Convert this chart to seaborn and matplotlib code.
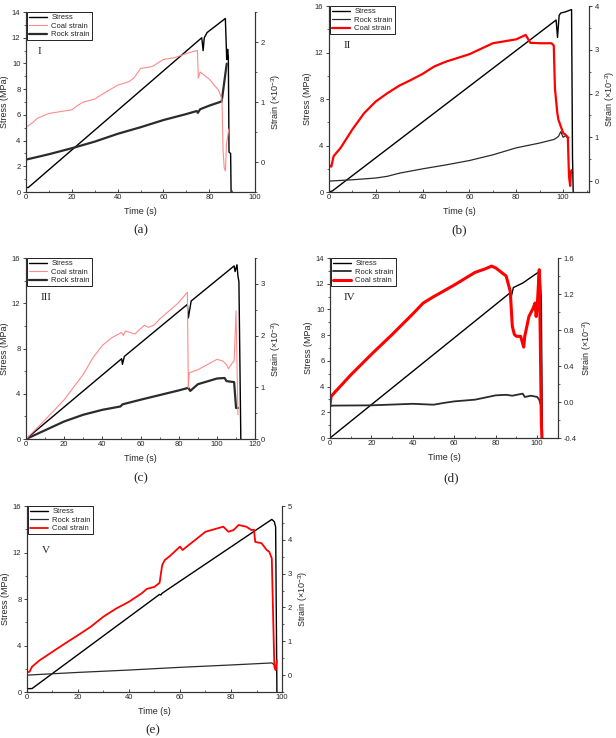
import numpy as np
import matplotlib
matplotlib.use('Agg')
import matplotlib.pyplot as plt
from matplotlib.ticker import MultipleLocator, AutoMinorLocator, FormatStrFormatter
import seaborn as sns

# ---- data (time in s, stress in MPa, strain in 1e-3) ----
a_stress_t = [0, 1, 76.7, 77.3, 77.8, 79, 87, 87.6, 88.0, 88.3, 88.6, 89.3, 89.5]
a_stress = [0.35, 0.35, 12.0, 11.0, 12.0, 12.4, 13.5, 10.3, 11.1, 10.5, 3.1, 3.0, 0]
a_rock_t = [0, 10, 20, 30, 40, 50, 60, 70, 74.5, 75, 76, 80, 85.4, 87.6]
a_rock = [0.04, 0.13, 0.23, 0.34, 0.47, 0.58, 0.70, 0.80, 0.85, 0.82, 0.88, 0.94, 1.01, 1.64]
a_coal_t = [0, 3, 5, 10, 15, 20, 22, 25, 30, 35, 40, 45, 47, 48, 50, 55, 60, 65, 70,
            74.8, 75.2, 76, 80, 84, 85.5, 86, 86.5, 87, 87.5, 88.5]
a_coal = [0.58, 0.66, 0.73, 0.81, 0.84, 0.87, 0.93, 1.0, 1.05, 1.17, 1.28, 1.34, 1.40, 1.45,
          1.56, 1.59, 1.71, 1.74, 1.81, 1.86, 1.40, 1.50, 1.38, 1.20, 1.05, 0.2, -0.1, -0.15, 0.3, 0.55]

b_stress_t = [0, 1.5, 97, 97.6, 98.3, 99, 101, 103.6, 104.0, 104.3]
b_stress = [0, 0.1, 14.8, 13.3, 15.2, 15.4, 15.5, 15.7, 3.0, 0]
b_rock_t = [0, 10, 20, 25, 30, 40, 50, 60, 70, 80, 90, 96, 97, 98, 99, 100, 101, 102, 102.5]
b_rock = [0.0, 0.03, 0.07, 0.11, 0.18, 0.28, 0.37, 0.47, 0.6, 0.76, 0.87, 0.95, 0.98, 1.02,
          1.13, 1.0, 1.04, 0.98, 1.0]
b_coal_t = [0, 1, 2, 5, 10, 15, 20, 25, 30, 35, 40, 45, 50, 60, 70, 80, 84, 86, 90, 95, 96,
            96.5, 97.5, 98, 99, 100, 101, 102, 102.5, 103, 103.3, 103.6]
b_coal = [0.36, 0.33, 0.57, 0.76, 1.18, 1.55, 1.82, 2.01, 2.18, 2.31, 2.45, 2.62, 2.73, 2.90,
          3.15, 3.24, 3.34, 3.16, 3.15, 3.15, 3.10, 2.12, 1.56, 1.40, 1.25, 1.10, 1.06, 1.00,
          0.11, -0.11, 0.20, 0.25]

c_stress_t = [0, 50.1, 50.5, 51.5, 84.5, 85.0, 86.5, 109, 109.5, 110.5, 111, 111.5, 112.5]
c_stress = [0, 7.1, 6.6, 7.3, 11.9, 10.7, 12.2, 15.3, 14.8, 15.4, 14.4, 13.9, 0]
c_rock_t = [0, 10, 20, 30, 40, 49.5, 50.5, 60, 70, 80, 85, 86, 90, 100, 104, 105, 109, 110, 111]
c_rock = [0, 0.17, 0.34, 0.47, 0.565, 0.63, 0.67, 0.76, 0.85, 0.94, 0.99, 0.93, 1.06, 1.17,
          1.18, 1.12, 1.10, 0.6, 0.6]
c_coal_t = [0, 10, 20, 30, 35, 40, 45, 50, 51, 52, 57, 62, 64, 67, 70, 80, 84.5, 85, 85.5,
            90, 95, 100, 103, 105, 106, 108, 109, 110, 110.5, 111]
c_coal = [0, 0.37, 0.76, 1.25, 1.57, 1.81, 1.96, 2.06, 2.0, 2.09, 2.03, 2.2, 2.16, 2.2, 2.32,
          2.64, 2.84, 0.99, 1.28, 1.34, 1.44, 1.54, 1.51, 1.44, 1.36, 1.47, 1.51, 2.48, 1.41, 0.47]

d_stress_t = [0, 0.8, 87, 87.5, 88.5, 93, 100, 101, 101.5, 102, 102.5]
d_stress = [0, 0.1, 11.3, 11.0, 11.7, 12.05, 12.83, 12.9, 12.6, 10.6, 0]
d_rock_t = [0, 1, 20, 40, 50, 55, 60, 70, 80, 85, 88, 93, 94, 97, 100, 101, 101.5]
d_rock = [-0.05, -0.04, -0.037, -0.02, -0.03, -0.01, 0.007, 0.026, 0.074, 0.08, 0.07, 0.093,
          0.056, 0.07, 0.056, 0.026, -0.02]
d_coal_t = [0, 0.5, 2, 10, 20, 30, 40, 45, 50, 60, 70, 75, 78, 80, 85, 87, 88, 89, 90, 92,
            93.5, 94, 96, 98, 99, 99.5, 100, 101, 101.5, 102, 102.3]
d_coal = [-0.04, 0.06, 0.1, 0.30, 0.53, 0.75, 0.98, 1.10, 1.17, 1.30, 1.44, 1.48, 1.51, 1.49,
          1.40, 1.23, 0.84, 0.75, 0.73, 0.73, 0.61, 0.73, 0.95, 1.04, 1.10, 0.95, 1.06, 1.47,
          0.69, -0.23, -0.4]

e_stress_t = [0, 0.65, 2, 52, 52.5, 53, 96, 97, 97.5, 98]
e_stress = [0.3, 0.29, 0.3, 8.4, 8.35, 8.5, 14.85, 14.65, 14.2, 0]
e_rock_t = [0, 20, 40, 60, 80, 96, 97, 97.5]
e_rock = [0.0, 0.08, 0.15, 0.23, 0.30, 0.36, 0.30, 0.23]
e_coal_t = [0, 1, 2, 5, 10, 15, 20, 25, 30, 35, 40, 45, 47, 50, 52, 53, 54, 56, 60, 61, 65,
            70, 77, 79, 81, 83, 86, 88, 89, 89.5, 92, 94, 95, 96, 96.5, 97, 97.5, 98]
e_coal = [0.08, 0.1, 0.25, 0.44, 0.69, 0.94, 1.18, 1.43, 1.73, 1.97, 2.17, 2.42, 2.55, 2.61,
          2.73, 3.25, 3.4, 3.52, 3.8, 3.7, 3.94, 4.24, 4.39, 4.24, 4.29, 4.44, 4.39, 4.29, 4.3,
          3.94, 3.9, 3.7, 3.65, 3.45, 1.82, 0.25, 0.15, 0.44]

sns.set_theme(style='ticks')
plt.rcParams['font.family'] = ['Liberation Sans', 'DejaVu Sans']
plt.rcParams['axes.unicode_minus'] = False
plt.rcParams['mathtext.fontset'] = 'custom'
plt.rcParams['mathtext.rm'] = 'Liberation Sans'

fig = plt.figure(figsize=(6.16, 7.38), dpi=100)

PINK = '#ff8a8a'
RED = '#ff0000'
ROCK = '#2b2b2b'

panels = [
    dict(pos=[0.0422, 0.7398, 0.372, 0.2439], xlim=(0, 100), ylim=(0, 14), ystep=2,
         slim=(-0.5, 2.5), sticks=[0, 1, 2], fmt='%d', order=['Stress', 'Coal strain', 'Rock strain'],
         coal=PINK, clw=0.8, rlw=1.6, roman='I', letter='(a)', ldy=38, ldx=0,
         st=(a_stress_t, a_stress), rk=(a_rock_t, a_rock), cl=(a_coal_t, a_coal), rom=(0.05, 0.78)),
    dict(pos=[0.534, 0.7398, 0.422, 0.252], xlim=(0, 111), ylim=(0, 16), ystep=4,
         slim=(-0.25, 4), sticks=[0, 1, 2, 3, 4], fmt='%d', order=['Stress', 'Rock strain', 'Coal strain'],
         coal=RED, clw=1.6, rlw=0.9, roman='II', letter='(b)', ldy=38, ldx=0,
         st=(b_stress_t, b_stress), rk=(b_rock_t, b_rock), cl=(b_coal_t, b_coal), rom=(0.055, 0.79)),
    dict(pos=[0.0422, 0.4051, 0.372, 0.2453], xlim=(0, 120), ylim=(0, 16), ystep=4,
         slim=(0, 3.5), sticks=[0, 1, 2, 3], fmt='%d', order=['Stress', 'Coal strain', 'Rock strain'],
         coal=PINK, clw=0.8, rlw=1.6, roman='III', letter='(c)', ldy=39, ldx=0,
         st=(c_stress_t, c_stress), rk=(c_rock_t, c_rock), cl=(c_coal_t, c_coal), rom=(0.065, 0.78)),
    dict(pos=[0.5357, 0.4065, 0.370, 0.2439], xlim=(0, 110), ylim=(0, 14), ystep=2,
         slim=(-0.4, 1.6), sticks=[-0.4, 0.0, 0.4, 0.8, 1.2, 1.6], fmt='%.1f',
         order=['Stress', 'Rock strain', 'Coal strain'],
         coal=RED, clw=2.2, rlw=1.3, roman='IV', letter='(d)', ldy=40, ldx=7,
         st=(d_stress_t, d_stress), rk=(d_rock_t, d_rock), cl=(d_coal_t, d_coal), rom=(0.06, 0.78)),
    dict(pos=[0.0438, 0.0623, 0.414, 0.252], xlim=(0, 100), ylim=(0, 16), ystep=4,
         slim=(-0.5, 5), sticks=[0, 1, 2, 3, 4, 5], fmt='%d', order=['Stress', 'Rock strain', 'Coal strain'],
         coal=RED, clw=1.3, rlw=0.9, roman='V', letter='(e)', ldy=38, ldx=-2,
         st=(e_stress_t, e_stress), rk=(e_rock_t, e_rock), cl=(e_coal_t, e_coal), rom=(0.06, 0.76)),
]

for p in panels:
    ax = fig.add_axes(p['pos'])
    ax2 = ax.twinx()

    sns.lineplot(x=p['st'][0], y=p['st'][1], ax=ax, color='black', lw=1.0,
                 sort=False, estimator=None, label='Stress', legend=False)
    sns.lineplot(x=p['rk'][0], y=p['rk'][1], ax=ax2, color=ROCK, lw=p['rlw'],
                 sort=False, estimator=None, label='Rock strain', legend=False)
    sns.lineplot(x=p['cl'][0], y=p['cl'][1], ax=ax2, color=p['coal'], lw=p['clw'],
                 sort=False, estimator=None, label='Coal strain', legend=False)

    ax.set_xlim(*p['xlim'])
    ax.set_ylim(*p['ylim'])
    ax2.set_ylim(*p['slim'])
    ax.xaxis.set_major_locator(MultipleLocator(20))
    ax.xaxis.set_minor_locator(AutoMinorLocator(2))
    ax.yaxis.set_major_locator(MultipleLocator(p['ystep']))
    ax.yaxis.set_minor_locator(AutoMinorLocator(2))
    ax2.set_yticks(p['sticks'])
    ax2.yaxis.set_minor_locator(AutoMinorLocator(2))
    ax2.yaxis.set_major_formatter(FormatStrFormatter(p['fmt']))

    for a in (ax, ax2):
        a.spines['top'].set_visible(False)
        for s in a.spines.values():
            s.set_linewidth(0.8)
            s.set_color('#333333')
    ax.tick_params(axis='both', which='major', labelsize=5.5, length=2.5, width=0.6, pad=1.5)
    ax.tick_params(axis='both', which='minor', length=1.5, width=0.5)
    ax.tick_params(axis='x', which='both', direction='in')
    ax2.tick_params(axis='y', which='major', labelsize=5.5, length=2.5, width=0.6, pad=1.5)
    ax2.tick_params(axis='y', which='minor', length=1.5, width=0.5)

    ax.set_xlabel('Time (s)', fontsize=6.5, labelpad=4)
    ax.set_ylabel('Stress (MPa)', fontsize=6.5, labelpad=2)
    ax2.set_ylabel(r'Strain ($\times$10$^{-3}$)', fontsize=6.5, labelpad=3)

    ax.text(p['rom'][0], p['rom'][1], p['roman'], transform=ax.transAxes,
            family=['Liberation Serif', 'DejaVu Serif'], fontsize=8, ha='left', va='center')

    # legend gathers lines from both y axes
    handles = {h.get_label(): h for h in ax.get_lines() + ax2.get_lines()}
    leg = ax2.legend([handles[k] for k in p['order']], p['order'], loc='upper left',
                     bbox_to_anchor=(0.005, 1.0), borderaxespad=0, fontsize=5.5,
                     frameon=True, fancybox=False, framealpha=1, edgecolor='black',
                     borderpad=0.25, labelspacing=0.15, handletextpad=0.5, handlelength=2.4)
    leg.get_frame().set_linewidth(0.6)

    x0, y0, w, h = p['pos']
    fig.text(x0 + w / 2 + p['ldx'] / 616, y0 - p['ldy'] / 738, p['letter'], ha='center',
             va='center', fontsize=9.5, family=['Liberation Serif', 'DejaVu Serif'])

fig.savefig('out.png', dpi=100)
